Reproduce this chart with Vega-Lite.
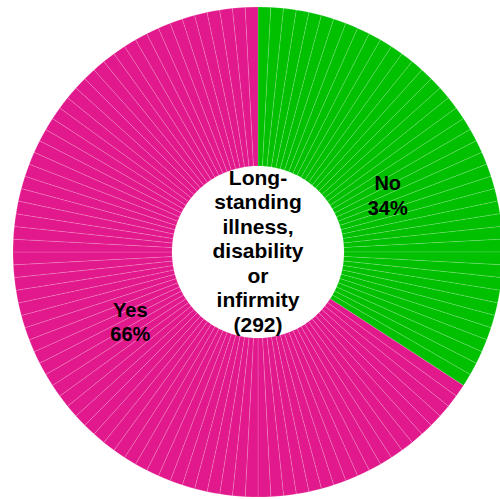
{
  "$schema": "https://vega.github.io/schema/vega-lite/v6.json",
  "width": 484,
  "height": 484,
  "autosize": {"type": "none"},
  "padding": {"left": 16, "top": 10, "right": 0, "bottom": 5},
  "background": "white",
  "config": {"view": {"stroke": null}},
  "datasets": {
    "slices": [
      {"answer": "No", "n": 1}, {"answer": "No", "n": 1}, {"answer": "No", "n": 1}, {"answer": "No", "n": 1}, {"answer": "No", "n": 1},
      {"answer": "No", "n": 1}, {"answer": "No", "n": 1}, {"answer": "No", "n": 1}, {"answer": "No", "n": 1}, {"answer": "No", "n": 1},
      {"answer": "No", "n": 1}, {"answer": "No", "n": 1}, {"answer": "No", "n": 1}, {"answer": "No", "n": 1}, {"answer": "No", "n": 1},
      {"answer": "No", "n": 1}, {"answer": "No", "n": 1}, {"answer": "No", "n": 1}, {"answer": "No", "n": 1}, {"answer": "No", "n": 1},
      {"answer": "No", "n": 1}, {"answer": "No", "n": 1}, {"answer": "No", "n": 1}, {"answer": "No", "n": 1}, {"answer": "No", "n": 1},
      {"answer": "No", "n": 1}, {"answer": "No", "n": 1}, {"answer": "No", "n": 1}, {"answer": "No", "n": 1}, {"answer": "No", "n": 1},
      {"answer": "No", "n": 1}, {"answer": "No", "n": 1}, {"answer": "No", "n": 1}, {"answer": "No", "n": 1}, {"answer": "No", "n": 1},
      {"answer": "No", "n": 1}, {"answer": "No", "n": 1}, {"answer": "No", "n": 1}, {"answer": "No", "n": 1}, {"answer": "No", "n": 1},
      {"answer": "No", "n": 1},
      {"answer": "Yes", "n": 1}, {"answer": "Yes", "n": 1}, {"answer": "Yes", "n": 1}, {"answer": "Yes", "n": 1}, {"answer": "Yes", "n": 1},
      {"answer": "Yes", "n": 1}, {"answer": "Yes", "n": 1}, {"answer": "Yes", "n": 1}, {"answer": "Yes", "n": 1}, {"answer": "Yes", "n": 1},
      {"answer": "Yes", "n": 1}, {"answer": "Yes", "n": 1}, {"answer": "Yes", "n": 1}, {"answer": "Yes", "n": 1}, {"answer": "Yes", "n": 1},
      {"answer": "Yes", "n": 1}, {"answer": "Yes", "n": 1}, {"answer": "Yes", "n": 1}, {"answer": "Yes", "n": 1}, {"answer": "Yes", "n": 1},
      {"answer": "Yes", "n": 1}, {"answer": "Yes", "n": 1}, {"answer": "Yes", "n": 1}, {"answer": "Yes", "n": 1}, {"answer": "Yes", "n": 1},
      {"answer": "Yes", "n": 1}, {"answer": "Yes", "n": 1}, {"answer": "Yes", "n": 1}, {"answer": "Yes", "n": 1}, {"answer": "Yes", "n": 1},
      {"answer": "Yes", "n": 1}, {"answer": "Yes", "n": 1}, {"answer": "Yes", "n": 1}, {"answer": "Yes", "n": 1}, {"answer": "Yes", "n": 1},
      {"answer": "Yes", "n": 1}, {"answer": "Yes", "n": 1}, {"answer": "Yes", "n": 1}, {"answer": "Yes", "n": 1}, {"answer": "Yes", "n": 1},
      {"answer": "Yes", "n": 1}, {"answer": "Yes", "n": 1}, {"answer": "Yes", "n": 1}, {"answer": "Yes", "n": 1}, {"answer": "Yes", "n": 1},
      {"answer": "Yes", "n": 1}, {"answer": "Yes", "n": 1}, {"answer": "Yes", "n": 1}, {"answer": "Yes", "n": 1}, {"answer": "Yes", "n": 1},
      {"answer": "Yes", "n": 1}, {"answer": "Yes", "n": 1}, {"answer": "Yes", "n": 1}, {"answer": "Yes", "n": 1}, {"answer": "Yes", "n": 1},
      {"answer": "Yes", "n": 1}, {"answer": "Yes", "n": 1}, {"answer": "Yes", "n": 1}, {"answer": "Yes", "n": 1}, {"answer": "Yes", "n": 1},
      {"answer": "Yes", "n": 1}, {"answer": "Yes", "n": 1}, {"answer": "Yes", "n": 1}, {"answer": "Yes", "n": 1}, {"answer": "Yes", "n": 1},
      {"answer": "Yes", "n": 1}, {"answer": "Yes", "n": 1}, {"answer": "Yes", "n": 1}, {"answer": "Yes", "n": 1}, {"answer": "Yes", "n": 1},
      {"answer": "Yes", "n": 1}, {"answer": "Yes", "n": 1}, {"answer": "Yes", "n": 1}, {"answer": "Yes", "n": 1}, {"answer": "Yes", "n": 1},
      {"answer": "Yes", "n": 1}, {"answer": "Yes", "n": 1}, {"answer": "Yes", "n": 1}, {"answer": "Yes", "n": 1}
    ],
    "totals": [
      {"answer": "No", "count": 99, "label": "No\n34%"},
      {"answer": "Yes", "count": 193, "label": "Yes\n66%"}
    ],
    "centre": [
      {"title": "Long-\nstanding\nillness,\ndisability\nor\ninfirmity\n(292)"}
    ]
  },
  "layer": [
    {
      "data": {"name": "slices"},
      "mark": {
        "type": "arc",
        "outerRadius": 245,
        "innerRadius": 86,
        "stroke": "white",
        "strokeWidth": 0.5,
        "strokeOpacity": 0.3
      },
      "encoding": {
        "theta": {"field": "n", "type": "quantitative", "stack": true},
        "color": {
          "field": "answer",
          "type": "nominal",
          "scale": {"domain": ["No", "Yes"], "range": ["#00C000", "#E2198C"]},
          "legend": null
        },
        "order": {"field": "answer", "sort": "ascending"}
      }
    },
    {
      "data": {"name": "totals"},
      "mark": {
        "type": "text",
        "radius": 146,
        "font": "Liberation Sans",
        "fontWeight": "bold",
        "fontSize": 20,
        "lineBreak": "\n",
        "lineHeight": 24.5,
        "color": "black",
        "dx": {"expr": "datum.answer === 'No' ? 2 : 0"},
        "dy": {"expr": "datum.answer === 'No' ? 3 : -12"}
      },
      "encoding": {
        "theta": {"field": "count", "type": "quantitative", "stack": true},
        "detail": {"field": "answer", "type": "nominal"},
        "order": {"field": "answer", "sort": "ascending"},
        "text": {"field": "label", "type": "nominal"}
      }
    },
    {
      "data": {"name": "centre"},
      "mark": {
        "type": "text",
        "font": "Liberation Sans",
        "fontWeight": "bold",
        "fontSize": 21,
        "lineBreak": "\n",
        "lineHeight": 24.5,
        "dy": -73.5,
        "color": "black"
      },
      "encoding": {
        "text": {"field": "title", "type": "nominal"}
      }
    }
  ],
  "resolve": {"scale": {"theta": "independent"}}
}
